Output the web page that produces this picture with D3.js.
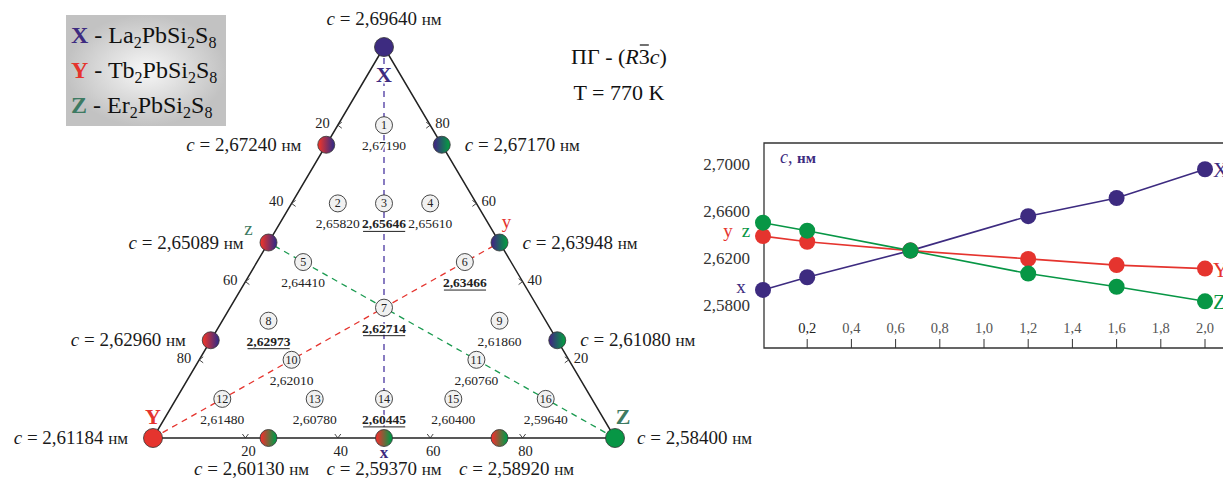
<!DOCTYPE html>
<html>
<head>
<meta charset="utf-8">
<script src="https://cdn.jsdelivr.net/npm/d3@7"></script>
<style>
  body { margin: 0; background: #fff; }
</style>
</head>
<body>
<script>
const purple = "#3d2b80", red = "#e5342e", green = "#079645", teal = "#3d7a62"

// ternary compositions are [X, Y, Z]
const vertexNames = ["X", "Y", "Z"]
const vertexComp = [[1, 0, 0], [0, 1, 0], [0, 0, 1]]
const vertexC = ["2,69640", "2,61184", "2,58400"]

const edgeComp = [[0.75, 0.25, 0], [0.5, 0.5, 0], [0.25, 0.75, 0],
                  [0.75, 0, 0.25], [0.5, 0, 0.5], [0.25, 0, 0.75],
                  [0, 0.75, 0.25], [0, 0.5, 0.5], [0, 0.25, 0.75]]
const edgeC = ["2,67240", "2,65089", "2,62960", "2,67170", "2,63948", "2,61080", "2,60130", "2,59370", "2,58920"]

const innerComp = [[0.8, 0.1, 0.1], [0.6, 0.3, 0.1], [0.6, 0.2, 0.2], [0.6, 0.1, 0.3],
                   [0.45, 0.45, 0.1], [0.45, 0.1, 0.45], [1/3, 1/3, 1/3], [0.3, 0.6, 0.1],
                   [0.3, 0.1, 0.6], [0.2, 0.6, 0.2], [0.2, 0.2, 0.6], [0.1, 0.8, 0.1],
                   [0.1, 0.6, 0.3], [0.1, 0.45, 0.45], [0.1, 0.3, 0.6], [0.1, 0.1, 0.8]]
const innerC = ["2,67190", "2,65820", "2,65646", "2,65610", "2,64410", "2,63466", "2,62714", "2,62973",
                "2,61860", "2,62010", "2,60760", "2,61480", "2,60780", "2,60445", "2,60400", "2,59640"]
const innerBold = [3, 6, 7, 8, 14]

const sideTicks = [20, 40, 60, 80]

// line chart
const xVals = [0, 0.2, 0.667, 1.2, 1.6, 2.0]
const seriesX = [2.5937, 2.60445, 2.62714, 2.65646, 2.6719, 2.6964]
const seriesY = [2.63948, 2.63466, 2.62714, 2.6201, 2.6148, 2.61184]
const seriesZ = [2.65089, 2.6441, 2.62714, 2.6076, 2.5964, 2.584]
const xTicks = [0.2, 0.4, 0.6, 0.8, 1.0, 1.2, 1.4, 1.6, 1.8, 2.0]
const yTicks = [2.58, 2.62, 2.66, 2.70]

const svg = d3.select("body").append("svg")
    .attr("width", 1223)
    .attr("height", 480)
    .attr("font-family", "'Liberation Serif', Tinos, 'Times New Roman', 'DejaVu Serif', serif")

const defs = svg.append("defs")
const grad = (id, c1, c2) => {
  const g = defs.append("linearGradient").attr("id", id)
  g.append("stop").attr("offset", "10%").attr("stop-color", c1)
  g.append("stop").attr("offset", "90%").attr("stop-color", c2)
}
grad("gLeft", red, purple)
grad("gRight", purple, green)
grad("gBottom", red, green)
const rg = defs.append("radialGradient").attr("id", "gLegend")
rg.append("stop").attr("offset", "0%").attr("stop-color", "#f7f7f7")
rg.append("stop").attr("offset", "100%").attr("stop-color", "#c2c2c2")

// ---------- legend ----------
svg.append("rect")
    .attr("x", 66).attr("y", 15).attr("width", 160).attr("height", 111)
    .attr("fill", "url(#gLegend)")

const legendRows = [
  {k: "X", col: purple, el: "La"},
  {k: "Y", col: red, el: "Tb"},
  {k: "Z", col: teal, el: "Er"}
]
legendRows.forEach((r, i) => {
  const t = svg.append("text").attr("x", 71).attr("y", 43 + i * 35).attr("font-size", 24).attr("fill", "#111")
  t.append("tspan").attr("font-weight", "bold").attr("fill", r.col).text(r.k)
  t.append("tspan").text(" - " + r.el)
  t.append("tspan").attr("font-size", 16).attr("dy", 5).text("2")
  t.append("tspan").attr("dy", -5).text("PbSi")
  t.append("tspan").attr("font-size", 16).attr("dy", 5).text("2")
  t.append("tspan").attr("dy", -5).text("S")
  t.append("tspan").attr("font-size", 16).attr("dy", 5).text("8")
})

// ---------- space group ----------
const sg = svg.append("text").attr("x", 619).attr("y", 64).attr("font-size", 22)
    .attr("text-anchor", "middle").attr("fill", "#111")
sg.append("tspan").text("ПГ - (")
sg.append("tspan").attr("font-style", "italic").text("R")
sg.append("tspan").text("3")
sg.append("tspan").attr("font-style", "italic").text("c")
sg.append("tspan").text(")")
const e3 = sg.node().getExtentOfChar(7)
svg.append("line")
    .attr("x1", e3.x + 1).attr("x2", e3.x + e3.width - 1)
    .attr("y1", e3.y + 1).attr("y2", e3.y + 1)
    .attr("stroke", "#111").attr("stroke-width", 1.2)
svg.append("text").attr("x", 619).attr("y", 100).attr("font-size", 22)
    .attr("text-anchor", "middle").attr("fill", "#111").text("T = 770 K")

// ---------- ternary ----------
const tx = d3.scaleLinear().domain([-1, 1]).range([153, 615])
const ty = d3.scaleLinear().domain([0, 1]).range([438, 47])
const proj = c => [tx(c[2] - c[1]), ty(c[0])]

const tern = svg.append("g")

// dashed section lines
const dashes = [
  {from: [1, 0, 0], to: [0, 0.5, 0.5], col: "#4a36a0"},
  {from: [0, 1, 0], to: [0.5, 0, 0.5], col: red},
  {from: [0, 0, 1], to: [0.5, 0.5, 0], col: "#1a9a50"}
]
dashes.forEach(d => {
  const a = proj(d.from), b = proj(d.to)
  tern.append("line")
      .attr("x1", a[0]).attr("y1", a[1]).attr("x2", b[0]).attr("y2", b[1])
      .attr("stroke", d.col).attr("stroke-width", 1.3).attr("stroke-dasharray", "6,5")
})

// triangle
tern.append("path")
    .attr("d", d3.line()(vertexComp.map(proj)) + "Z")
    .attr("fill", "none").attr("stroke", "#222").attr("stroke-width", 1.5)

// side ticks: left = Y %, right = X %, bottom = Z %
sideTicks.forEach(v => {
  const f = v / 100
  const L = proj([1 - f, f, 0]), R = proj([f, 0, 1 - f]), B = proj([0, 1 - f, f])
  tern.append("path").attr("d", `M${L[0] + 4},${L[1] - 3}L${L[0]},${L[1]}L${L[0] + 4},${L[1] + 3}`)
      .attr("fill", "none").attr("stroke", "#333").attr("stroke-width", 0.9)
  tern.append("path").attr("d", `M${R[0] - 4},${R[1] - 3}L${R[0]},${R[1]}L${R[0] - 4},${R[1] + 3}`)
      .attr("fill", "none").attr("stroke", "#333").attr("stroke-width", 0.9)
  tern.append("path").attr("d", `M${B[0] - 3},${B[1] - 4}L${B[0]},${B[1]}L${B[0] + 3},${B[1] - 4}`)
      .attr("fill", "none").attr("stroke", "#333").attr("stroke-width", 0.9)
  const lab = (x, y, anchor) => tern.append("text").attr("x", x).attr("y", y)
      .attr("text-anchor", anchor).attr("font-size", 14.5).attr("fill", "#222").text(v)
  lab(L[0] - 8, L[1] + 3, "end")
  lab(R[0] + 5, R[1] + 3, "start")
  lab(B[0] + 3, B[1] + 18, "middle")
})

// c-label helper
const cLabel = (x, y, anchor, val) => {
  const t = tern.append("text").attr("x", x).attr("y", y).attr("text-anchor", anchor)
      .attr("font-size", 19).attr("fill", "#1a1a1a")
  t.append("tspan").attr("font-style", "italic").text("c")
  t.append("tspan").text(" = " + val + " ")
  t.append("tspan").attr("font-size", 17).text("нм")
}

// interior numbered points
innerComp.forEach((c, i) => {
  const [x, y] = proj(c)
  const bold = innerBold.includes(i + 1)
  tern.append("circle").attr("cx", x).attr("cy", y).attr("r", 8.5)
      .attr("fill", "#f1f1f1").attr("stroke", "#333").attr("stroke-width", 0.9)
  tern.append("text").attr("x", x).attr("y", y + 4).attr("text-anchor", "middle")
      .attr("font-size", 12).attr("fill", "#222").text(i + 1)
  const t = tern.append("text").attr("x", x).attr("y", y + 25).attr("text-anchor", "middle")
      .attr("font-size", 13.5).attr("fill", "#222")
      .attr("font-weight", bold ? "bold" : null)
      .attr("stroke", "#fff").attr("stroke-width", 3).attr("paint-order", "stroke")
      .text(innerC[i])
  if (bold) {
    const bb = t.node().getBBox()
    tern.append("line").attr("x1", bb.x + 1).attr("x2", bb.x + bb.width - 1)
        .attr("y1", y + 28).attr("y2", y + 28).attr("stroke", "#222").attr("stroke-width", 1)
  }
})

// edge points
edgeComp.forEach((c, i) => {
  const [x, y] = proj(c)
  const side = c[2] === 0 ? "left" : c[1] === 0 ? "right" : "bottom"
  tern.append("circle").attr("cx", x).attr("cy", y).attr("r", 8.5)
      .attr("fill", `url(#g${side[0].toUpperCase() + side.slice(1)})`)
      .attr("stroke", "#333").attr("stroke-width", 0.8)
  if (side === "left") cLabel(x - 25, y + 6, "end", edgeC[i])
  else if (side === "right") cLabel(x + 23, y + 6, "start", edgeC[i])
  else cLabel(x + (c[2] - c[1]) * 34, y + 37, "middle", edgeC[i])
})

// vertices
const vCol = [purple, red, green]
const vLetterCol = [purple, red, teal]
vertexComp.forEach((c, i) => {
  const [x, y] = proj(c)
  tern.append("circle").attr("cx", x).attr("cy", y).attr("r", 9.5)
      .attr("fill", vCol[i]).attr("stroke", "#333").attr("stroke-width", 0.8)
  if (i === 0) {
    cLabel(x, y - 22, "middle", vertexC[i])
    tern.append("text").attr("x", x).attr("y", y + 35).attr("text-anchor", "middle")
        .attr("font-size", 22).attr("font-weight", "bold").attr("fill", vLetterCol[i])
        .attr("stroke", "#fff").attr("stroke-width", 3).attr("paint-order", "stroke")
        .text(vertexNames[i])
  } else if (i === 1) {
    cLabel(x - 25, y + 6, "end", vertexC[i])
    tern.append("text").attr("x", x).attr("y", y - 14).attr("text-anchor", "middle")
        .attr("font-size", 22).attr("font-weight", "bold").attr("fill", vLetterCol[i]).text(vertexNames[i])
  } else {
    cLabel(x + 22, y + 6, "start", vertexC[i])
    tern.append("text").attr("x", x + 8).attr("y", y - 14).attr("text-anchor", "middle")
        .attr("font-size", 22).attr("font-weight", "bold").attr("fill", vLetterCol[i]).text(vertexNames[i])
  }
})

// small letters at section line ends
const smallLetters = [
  {c: [0.5, 0.5, 0], t: "z", col: teal, dx: -20, dy: -8},
  {c: [0.5, 0, 0.5], t: "y", col: red, dx: 7, dy: -15},
  {c: [0, 0.5, 0.5], t: "x", col: purple, dx: 0, dy: 20}
]
smallLetters.forEach(s => {
  const [x, y] = proj(s.c)
  tern.append("text").attr("x", x + s.dx).attr("y", y + s.dy).attr("text-anchor", "middle")
      .attr("font-size", s.t === "x" ? 17 : 19).attr("font-weight", s.t === "x" ? "bold" : null)
      .attr("fill", s.col).text(s.t)
})

// ---------- line chart ----------
const lx = d3.scaleLinear().domain([0, 2]).range([763, 1205])
const ly = d3.scaleLinear().domain([2.58, 2.70]).range([306, 165])
const frameTop = 143, frameBottom = 348, frameLeft = 764

const lc = svg.append("g")
lc.append("path")
    .attr("d", `M1223,${frameTop}H${frameLeft}V${frameBottom}H1223`)
    .attr("fill", "none").attr("stroke", "#333").attr("stroke-width", 1.3)

lc.selectAll(".xt").data(xTicks).enter().append("line")
    .attr("x1", d => lx(d)).attr("x2", d => lx(d))
    .attr("y1", frameBottom).attr("y2", frameBottom - 9)
    .attr("stroke", "#333").attr("stroke-width", 1)
lc.selectAll(".xl").data(xTicks).enter().append("text")
    .attr("x", d => lx(d)).attr("y", 333).attr("text-anchor", "middle")
    .attr("font-size", 14.5).attr("fill", d => d === 0.2 ? "#222" : "#555")
    .text(d => d3.format(".1f")(d).replace(".", ","))
lc.selectAll(".yl").data(yTicks).enter().append("text")
    .attr("x", 750).attr("y", d => ly(d) + 5).attr("text-anchor", "end")
    .attr("font-size", 17).attr("fill", "#333")
    .text(d => d3.format(".4f")(d).replace(".", ","))

const ax = lc.append("text").attr("x", 780).attr("y", 163).attr("font-size", 18).attr("fill", purple)
ax.append("tspan").attr("font-style", "italic").text("c")
ax.append("tspan").text(", ")
ax.append("tspan").attr("font-weight", "bold").attr("font-size", 15).text("нм")

const series = [
  {vals: seriesX, col: purple, end: "X"},
  {vals: seriesY, col: red, end: "Y"},
  {vals: seriesZ, col: green, end: "Z"}
]
const line = d3.line().x((d, i) => lx(xVals[i])).y(d => ly(d))
series.forEach(s => {
  lc.append("path").attr("d", line(s.vals))
      .attr("fill", "none").attr("stroke", s.col).attr("stroke-width", 1.6)
})
series.forEach(s => {
  lc.selectAll(null).data(s.vals).enter().append("circle")
      .attr("cx", (d, i) => lx(xVals[i])).attr("cy", d => ly(d)).attr("r", 8)
      .attr("fill", s.col)
})
// series letters
lc.append("text").attr("x", lx(0) - 22).attr("y", ly(seriesX[0]) + 3).attr("text-anchor", "middle")
    .attr("font-size", 19).attr("fill", purple).text("x")
lc.append("text").attr("x", lx(0) - 35).attr("y", ly(seriesY[0]) + 1).attr("text-anchor", "middle")
    .attr("font-size", 19).attr("fill", red).text("y")
lc.append("text").attr("x", lx(0) - 17).attr("y", ly(seriesY[0]) + 1).attr("text-anchor", "middle")
    .attr("font-size", 19).attr("fill", green).text("z")
series.forEach(s => {
  lc.append("text").attr("x", lx(2) + 8).attr("y", ly(s.vals[5]) + 8)
      .attr("font-size", 21).attr("fill", s.col).text(s.end)
})
</script>
</body>
</html>
